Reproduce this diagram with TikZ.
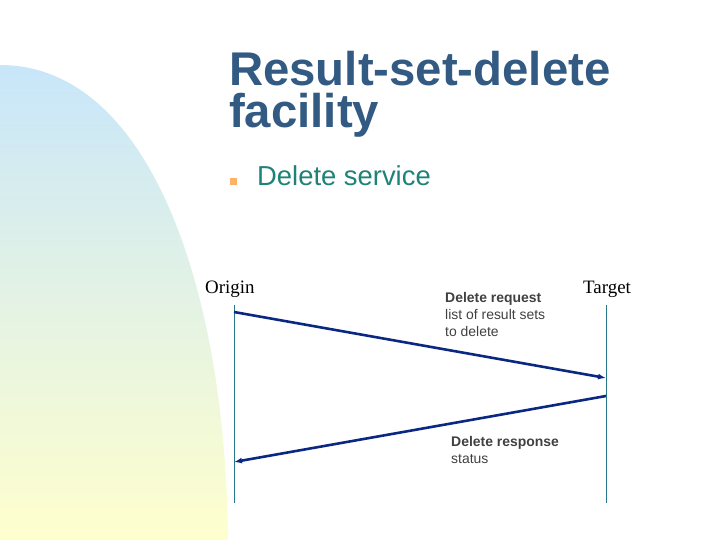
\documentclass[tikz,border=0pt]{standalone}
\usepackage{fontspec}
\setmainfont{Liberation Serif}
\setsansfont{Liberation Sans}
\usetikzlibrary{positioning}
\usetikzlibrary{arrows.meta}
\definecolor{navy}{RGB}{10,40,130}
\definecolor{lifeline}{RGB}{40,120,140}
\definecolor{titleblue}{RGB}{50,90,130}
\definecolor{teal}{RGB}{30,130,120}
\begin{document}
\begin{tikzpicture}[x=1bp,y=-1bp,
    msg/.style={-{Latex[length=8pt,width=6pt]}, line width=2.6pt, navy},
    life/.style={lifeline, line width=0.6pt},
    party/.style={font=\fontsize{19}{20}\selectfont, anchor=base west, inner sep=0pt},
    note/.style={font=\sffamily\fontsize{14}{17}\selectfont, align=left, anchor=north west, inner sep=0pt, text=black!75}]
    \useasboundingbox (0,0) rectangle (720,540);
    % background
    \shade[top color={rgb,255:red,200;green,230;blue,250}, bottom color={rgb,255:red,255;green,255;blue,205}]
        (0,65) .. controls (150,65) and (226,290) .. (228,540) -- (0,540) -- cycle;
    % title
    \node[font=\sffamily\bfseries\fontsize{47.5}{43}\selectfont, text=titleblue, align=left, anchor=base west, inner sep=0pt] (title) at (229,128) {Result-set-delete\\facility};
    \fill[orange!60!white] (230,178) rectangle (237,185);
    \node[font=\sffamily\fontsize{27.5}{28}\selectfont, text=teal, anchor=base west, inner sep=0pt] (service) at (257,186) {Delete service};
    % parties
    \node[party] (origin) at (205,293) {Origin};
    \node[party] (target) at (583,293) {Target};
    \coordinate (o1) at (234,305);
    \coordinate (o2) at (234,503);
    \coordinate (t1) at (606,305);
    \coordinate (t2) at (606,503);
    \draw[life] (o1) -- (o2);
    \draw[life] (t1) -- (t2);
    % messages
    \coordinate (reqs) at (234,312);
    \coordinate (reqe) at (606,378);
    \coordinate (ress) at (606,396);
    \coordinate (rese) at (234,462);
    \draw[msg] (reqs) -- (reqe);
    \draw[msg] (ress) -- (rese);
    \node[note] (req) at (445,292) {\textbf{Delete request}\\list of result sets\\to delete};
    \node[note] (res) at (451,436) {\textbf{Delete response}\\status};
\end{tikzpicture}
\end{document}
